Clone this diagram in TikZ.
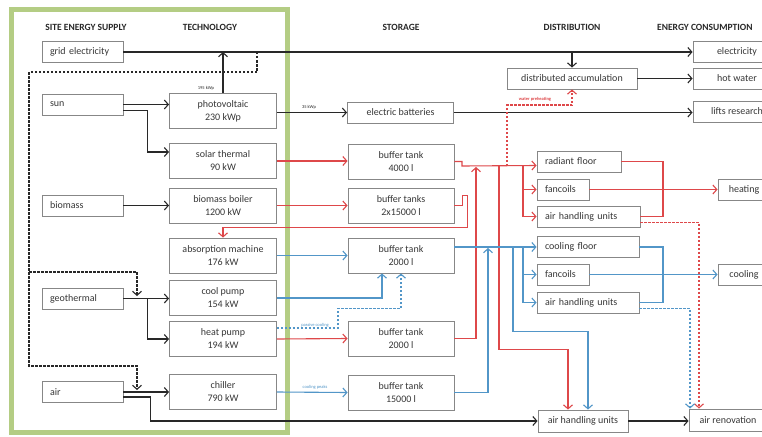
\documentclass[tikz,border=0pt]{standalone}
\usepackage{fontspec}
\setmainfont{Carlito}
\usetikzlibrary{arrows.meta,calc}
\definecolor{frameg}{RGB}{180,205,132}
\definecolor{boxc}{RGB}{135,135,135}
\definecolor{txt}{RGB}{55,55,55}
\definecolor{hred}{RGB}{222,72,74}
\definecolor{cblue}{RGB}{82,150,200}
\definecolor{blk}{RGB}{40,40,40}
\begin{document}
\begin{tikzpicture}[x=1pt,y=-1pt,
 box/.style={draw=boxc,line width=0.9pt,fill=white,inner sep=0pt,align=center,text=txt,font=\fontsize{10}{13}\selectfont},
 lbox/.style={box,align=left,inner xsep=8pt},
 hdr/.style={font=\bfseries\fontsize{9.5}{11}\selectfont,text=blk,inner sep=0pt},
 tinylab/.style={font=\fontsize{4.5}{5}\selectfont,inner sep=0.5pt},
 arr/.style={-{Straight Barb[length=4pt,width=9pt]}},
 bl/.style={draw=blk,line width=1.1pt},
 rd/.style={draw=hred,line width=1.1pt},
 bu/.style={draw=cblue,line width=1.1pt},
 dsh/.style={dash pattern=on 2.5pt off 1.5pt},
]
\useasboundingbox (0,0) rectangle (762,436);
\clip (0,0) rectangle (762,436);
\fill[white] (0,0) rectangle (762,436);
% frame
\node[draw=frameg,line width=5pt,minimum width=276pt,minimum height=422pt,inner sep=0pt] (frame) at (149,221) {};
% headers
\node[hdr] (h1) at (86,27) {SITE ENERGY SUPPLY};
\node[hdr] (h2) at (210,27) {TECHNOLOGY};
\node[hdr] (h3) at (401,27) {STORAGE};
\node[hdr] (h4) at (572,27) {DISTRIBUTION};
\node[hdr,anchor=west] (h5) at (657,27) {ENERGY CONSUMPTION};
% site boxes
\begin{scope}[every node/.style={lbox,text width=65pt,minimum height=21pt}]
\node (grid) at (82.5,52) {grid electricity};
\node (sun) at (82.5,104.5) {sun};
\node (bio) at (82.5,205.5) {biomass};
\node (geo) at (82.5,298.5) {geothermal};
\node (air) at (82.5,392) {air};
\end{scope}
% technology
\begin{scope}[every node/.style={box,minimum width=107pt,minimum height=35pt}]
\node (pv) at (223,111) {photovoltaic\\230 kWp};
\node (st) at (223,161) {solar thermal\\90 kW};
\node (bb) at (223,205.5) {biomass boiler\\1200 kW};
\node (abs) at (223,255.5) {absorption machine\\176 kW};
\node (cp) at (223,298) {cool pump\\154 kW};
\node (hp) at (223,339) {heat pump\\194 kW};
\node (ch) at (223,392) {chiller\\790 kW};
\end{scope}
% storage
\begin{scope}[every node/.style={box,minimum width=106pt,minimum height=35pt}]
\node[minimum height=21pt] (eb) at (400.5,112.5) {electric batteries};
\node (bt1) at (401,161.5) {buffer tank\\4000 l};
\node (bt2) at (401,205.5) {buffer tanks\\2x15000 l};
\node (bt3) at (401,255.5) {buffer tank\\2000 l};
\node (bt4) at (401,338.5) {buffer tank\\2000 l};
\node (bt5) at (401,392.5) {buffer tank\\15000 l};
\end{scope}
% distribution
\node[box,minimum width=130pt,minimum height=21pt] (da) at (572,78.5) {distributed accumulation};
\begin{scope}[every node/.style={lbox,minimum height=21pt}]
\node[text width=68pt] (rf) at (579,161.5) {radiant floor};
\node[text width=36pt] (fc1) at (563,189.5) {fancoils};
\node[text width=87pt] (ahu1) at (588.5,216.5) {air handling units};
\node[text width=86pt] (cf) at (588,247) {cooling floor};
\node[text width=36pt] (fc2) at (563,274.5) {fancoils};
\node[text width=86pt] (ahu2) at (588,302.5) {air handling units};
\end{scope}
\node[box,minimum width=90pt,minimum height=22pt] (ahu3) at (583,421) {air handling units};
% consumption
\begin{scope}[every node/.style={box,minimum height=21pt}]
\node[minimum width=88pt] (el) at (737,52) {electricity};
\node[minimum width=88pt] (hw) at (737,78.5) {hot water};
\node[minimum width=88pt] (lr) at (737,111.5) {lifts research};
\node[minimum width=52pt] (heat) at (744,189.5) {heating};
\node[minimum width=52pt] (cool) at (744,274.5) {cooling};
\node[minimum width=78pt,minimum height=22pt] (ar) at (728,420) {air renovation};
\end{scope}
% ---------- black connectors
\draw[bl,arr] (grid.east) -- (el.west);
\draw[bl,arr] (pv.north) -- (pv.north |- grid.east);
\node[tinylab,text=blk] (l195) at (206,88) {195 kWp};
\coordinate (d0) at (257,52);
\coordinate (d1) at (29,272);
\draw[bl,dsh,arr] (d0) -- (257,72) -- (29,72) -- (29,366) -- (137,366) -- (137,390);
\draw[bl,dsh,arr] (d1) -- (137,272) -- (137,296);
\draw[bl,arr] (sun.east) -- (pv.west |- sun.east);
\draw[bl,arr] ($(sun.east)+(0,6)$) -- ++(24,0) |- ($(st.west)+(0,-9)$);
\draw[bl,arr] (bio.east) -- (bb.west);
\draw[bl,arr] (geo.east) -- (cp.west |- geo.east);
\draw[bl,arr] ($(geo.east)+(24,0)$) |- (hp.west);
\draw[bl,arr] (air.east) -- (ch.west);
\draw[bl,arr] ($(air.east)+(0,5)$) -- ++(27,0) |- (ahu3.west);
\draw[bl,arr] (pv.east |- eb.west) -- (eb.west);
\node[tinylab,text=blk] (l35) at (309,107) {35 kWp};
\draw[bl,arr] (eb.east) -- (lr.west |- eb.east);
\draw[bl,arr] (da.north |- grid.east) -- (da.north);
\draw[bl,arr] (da.east) -- (hw.west);
\draw[bl,arr] (ahu3.east) -- (ar.west |- ahu3.east);
% ---------- red connectors
\draw[rd,arr] (st.east) -- (bt1.west |- st.east);
\draw[rd,arr] (bb.east) -- (bt2.west);
\draw[rd,arr] (bt2.east) -- ++(8,0) -- ++(0,-10) -- ++(5,0) |- ($(abs.north)+(0,-10)$) -- (abs.north);
\draw[rd,arr] (bt1.east) -| (462,166) -- ($(rf.west)+(0,4)$);
\draw[rd,arr] (523,166) |- (fc1.west);
\draw[rd,arr] (523,166) |- (ahu1.west);
\draw[rd,arr] (hp.east) -- (bt4.west);
\draw[rd,arr] (bt4.east) -| (476,167);
\draw[rd,arr] (499,166) |- ($(ahu3.north)+(-15,-60)$) -- ($(ahu3.north)+(-15,0)$);
\draw[rd,dsh,arr] (507,166) -- (507,105) -| (da.south);
\node[tinylab,text=hred,font=\bfseries\fontsize{4.5}{5}\selectfont] (lwp) at (535,99) {water preheating};
\draw[rd] (rf.east) -| (663,216.5) -- (ahu1.east);
\draw[rd,arr] (fc1.east) -- (heat.west);
\draw[rd,dsh,arr] ($(ahu1.east)+(0,6)$) -| ($(ar.north)+(-29,0)$);
% ---------- blue connectors
\draw[bu,arr] (abs.east) -- (bt3.west);
\draw[bu,arr] (cp.east) -| ($(bt3.south)+(-19,0)$);
\draw[bu,dsh,arr] ($(hp.east)+(0,-11)$) -- ++(61,0) |- ($(bt3.south)+(0,35)$) -- (bt3.south);
\node[tinylab,text=cblue] (lpc) at (315,325) {passive cooling};
\draw[bu,arr] (ch.east) -- (bt5.west);
\node[tinylab,text=cblue] (lcp) at (315,387) {cooling peaks};
\draw[bu,arr] (bt5.east) -| (488,248);
\draw[bu,arr] ($(bt3.east)+(0,-8.5)$) -- (cf.west);
\draw[bu,arr] (523,247) |- (fc2.west);
\draw[bu,arr] (523,247) |- (ahu2.west);
\draw[bu,arr] (513,247) |- ($(ahu3.north)+(5,-78)$) -- ($(ahu3.north)+(5,0)$);
\draw[bu] (cf.east) -| (663,302.5) -- (ahu2.east);
\draw[bu,arr] (fc2.east) -- (cool.west);
\draw[bu,dsh,arr] ($(ahu2.east)+(0,6)$) -| ($(ar.north)+(-38,0)$);
\end{tikzpicture}
\end{document}
